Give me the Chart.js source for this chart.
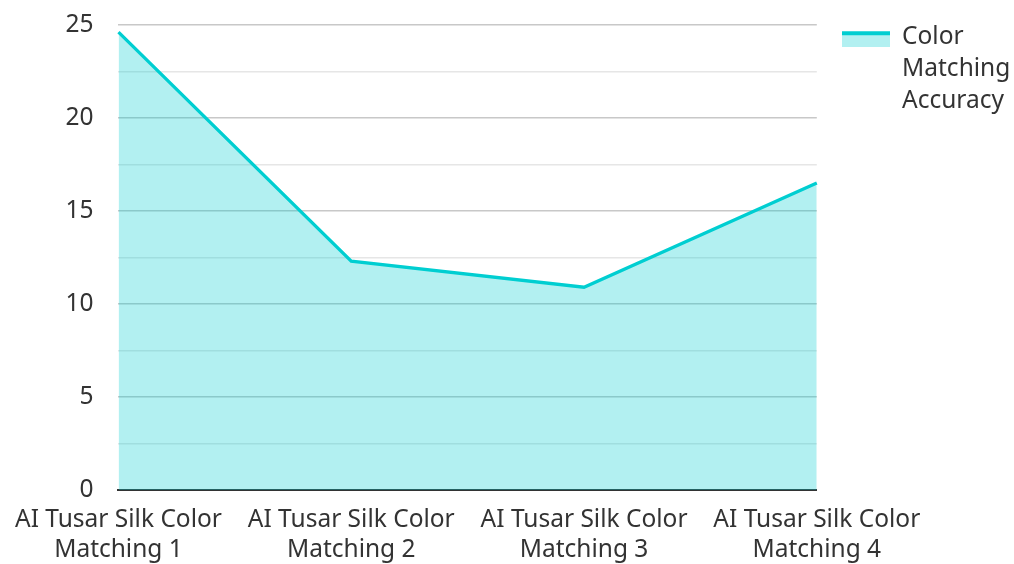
<!DOCTYPE html>
<html>
<head>
<meta charset="utf-8">
<script src="https://cdn.jsdelivr.net/npm/chart.js@4"></script>
<style>
  html, body { margin: 0; padding: 0; background: #fff; }
  #wrap { width: 1014px; height: 564px; }
</style>
</head>
<body>
<div id="wrap"><canvas id="myChart"></canvas></div>
<script>
let categories = [
  ["AI Tusar Silk Color", "Matching 1"],
  ["AI Tusar Silk Color", "Matching 2"],
  ["AI Tusar Silk Color", "Matching 3"],
  ["AI Tusar Silk Color", "Matching 4"],
];
let accuracy = [24.6, 12.3, 10.9, 16.5];
let seriesLabel = ["Color", "Matching", "Accuracy"];

const lineColor = "rgb(0, 206, 209)";
const fillColor = "rgba(0, 206, 209, 0.3)";

// legend swatch: line on top, fill underneath (4px transparent on top to push it down)
const swatch = document.createElement("canvas");
swatch.width = 48;
swatch.height = 20;
const sctx = swatch.getContext("2d");
sctx.fillStyle = fillColor;
sctx.fillRect(0, 4, 48, 16);
sctx.fillStyle = lineColor;
sctx.fillRect(0, 4, 48, 4);

Chart.defaults.font.family = "'Noto Sans', sans-serif";
Chart.defaults.font.size = 24.5;
Chart.defaults.color = "#333";

const data = {
  labels: categories,
  datasets: [
    {
      label: seriesLabel,
      data: accuracy,
      borderColor: lineColor,
      backgroundColor: fillColor,
      borderWidth: 3.3,
      fill: "origin",
      tension: 0,
      pointRadius: 0,
    },
  ],
};

const config = {
  type: "line",
  data: data,
  options: {
    responsive: true,
    maintainAspectRatio: false,
    animation: false,
    layout: { padding: { left: 8, top: 0, right: 0, bottom: -16 } },
    plugins: {
      tooltip: { enabled: false },
      legend: {
        position: "right",
        align: "start",
        labels: {
          usePointStyle: true,
          pointStyleWidth: 48,
          boxHeight: 16,
          padding: 25,
          font: { size: 24.5, lineHeight: 1.3 },
          generateLabels: (chart) => {
            const items = Chart.defaults.plugins.legend.labels.generateLabels(chart);
            items.forEach((it) => {
              it.pointStyle = swatch;
              it.lineWidth = 0;
            });
            return items;
          },
        },
      },
    },
    scales: {
      x: {
        offset: false,
        grid: { display: false, drawTicks: false },
        border: { display: true, color: "#333", width: 2 },
        ticks: { maxRotation: 0, padding: 15, font: { size: 24.5, lineHeight: 1.22 } },
      },
      y: {
        min: 0,
        max: 25,
        border: { display: false },
        grid: {
          drawTicks: true,
          tickLength: 15,
          tickColor: "transparent",
          color: (ctx) => (ctx.tick && ctx.tick.value % 5 === 0 ? "#c8c8c8" : "#e6e6e6"),
          lineWidth: 1.5,
        },
        ticks: {
          stepSize: 2.5,
          padding: 10,
          autoSkip: false,
          callback: (v) => (v % 5 === 0 ? v : ""),
        },
      },
    },
  },
};

const myChart = new Chart(document.getElementById("myChart"), config);
</script>
</body>
</html>
